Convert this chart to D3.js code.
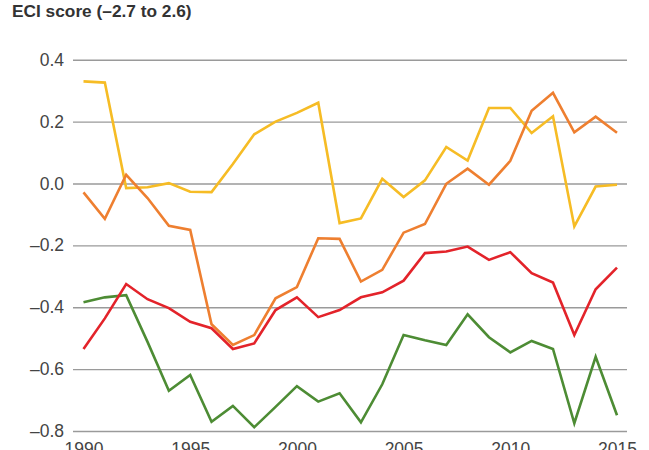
<!DOCTYPE html>
<html>
<head>
<meta charset="utf-8">
<script src="https://cdn.jsdelivr.net/npm/d3@7"></script>
<style>
  html, body { margin: 0; padding: 0; background: #fff; }
  svg { display: block; }
</style>
</head>
<body>
<svg id="chart" width="649" height="450"></svg>
<script>
// Economic Complexity Index, four series, 1990–2015
const years = d3.range(1990, 2016);

const seriesYellow = [0.330, 0.326, -0.015, -0.012, 0.001, -0.027, -0.028, 0.063, 0.159, 0.200,
  0.228, 0.261, -0.128, -0.113, 0.015, -0.044, 0.010, 0.118, 0.074, 0.244,
  0.244, 0.163, 0.217, -0.139, -0.010, -0.004];

const seriesOrange = [-0.029, -0.114, 0.028, -0.047, -0.137, -0.150, -0.455, -0.522, -0.490, -0.371,
  -0.335, -0.177, -0.179, -0.317, -0.279, -0.159, -0.131, -0.001, 0.048, -0.004,
  0.073, 0.235, 0.293, 0.165, 0.216, 0.164];

const seriesRed = [-0.535, -0.436, -0.325, -0.374, -0.403, -0.447, -0.468, -0.535, -0.517, -0.409,
  -0.368, -0.432, -0.409, -0.368, -0.352, -0.314, -0.225, -0.220, -0.204, -0.247,
  -0.222, -0.290, -0.320, -0.490, -0.342, -0.272];

const seriesGreen = [-0.384, -0.368, -0.361, -0.512, -0.670, -0.619, -0.770, -0.719, -0.788, -0.722,
  -0.655, -0.705, -0.678, -0.772, -0.649, -0.490, -0.507, -0.522, -0.423, -0.497,
  -0.546, -0.509, -0.535, -0.775, -0.560, -0.749];

const yTicks = [0.4, 0.2, 0.0, -0.2, -0.4, -0.6, -0.8];
const xTicks = [1990, 1995, 2000, 2005, 2010, 2015];
const titleText = "ECI score (\u20132.7 to 2.6)";

const series = [
  { values: seriesYellow, color: "#f6bc25" },
  { values: seriesGreen, color: "#4d8c34" },
  { values: seriesRed, color: "#e3232a" },
  { values: seriesOrange, color: "#ee7f30" }
];

const svg = d3.select("#chart");
const font = "'Liberation Sans', Arial, Helvetica, sans-serif";

const x = d3.scaleLinear().domain([1990, 2015]).range([83.5, 617]);
const y = d3.scaleLinear().domain([-0.8, 0.4]).range([431, 59.7]);

const fmt = v => (v < 0 ? "\u2013" : "") + Math.abs(v).toFixed(1);

// Title
svg.append("text")
  .attr("x", 12)
  .attr("y", 17)
  .attr("font-family", font)
  .attr("font-weight", "bold")
  .attr("font-size", 17.3)
  .attr("fill", "#333")
  .text(titleText);

// Horizontal gridlines with value labels
const yAxis = d3.axisLeft(y)
  .tickValues(yTicks)
  .tickSize(-(627 - 73))
  .tickPadding(9)
  .tickFormat(fmt);

const gy = svg.append("g")
  .attr("transform", "translate(73,0)")
  .call(yAxis);
gy.select(".domain").remove();
gy.selectAll(".tick line").attr("stroke", "#9a9a9a").attr("stroke-width", 1.4);
gy.selectAll(".tick text")
  .attr("font-family", font)
  .attr("font-size", 17.5)
  .attr("fill", "#444");

// Year labels along the bottom
const xAxis = d3.axisBottom(x)
  .tickValues(xTicks)
  .tickSize(0)
  .tickPadding(0)
  .tickFormat(d3.format("d"));

const gx = svg.append("g")
  .attr("transform", "translate(0,442.5)")
  .call(xAxis);
gx.select(".domain").remove();
gx.selectAll(".tick text")
  .attr("dy", "0.71em")
  .attr("font-family", font)
  .attr("font-size", 17.5)
  .attr("fill", "#444");

// Series lines
const line = d3.line()
  .x((d, i) => x(years[i]))
  .y(d => y(d));

svg.append("g")
  .selectAll("path")
  .data(series)
  .join("path")
  .attr("d", d => line(d.values))
  .attr("fill", "none")
  .attr("stroke", d => d.color)
  .attr("stroke-width", 2.6)
  .attr("stroke-linejoin", "miter")
  .attr("stroke-linecap", "butt");
</script>
</body>
</html>
